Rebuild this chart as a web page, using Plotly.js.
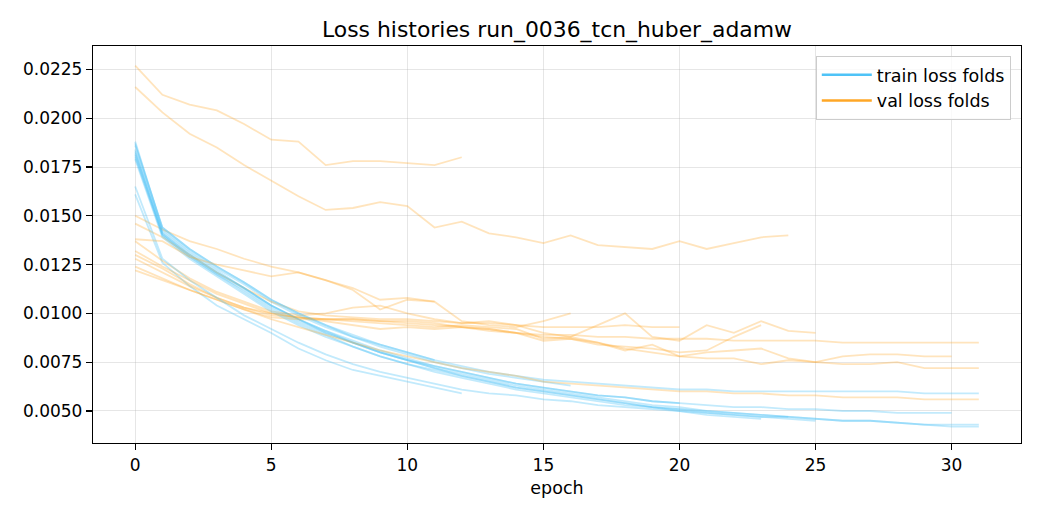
<!DOCTYPE html>
<html>
<head>
<meta charset="utf-8">
<script src="https://cdn.plot.ly/plotly-3.0.1.min.js"></script>
<style>
  html, body { margin: 0; padding: 0; background: #fff; }
  #losses { width: 1040px; height: 520px; }
</style>
</head>
<body>
<div id="losses"></div>
<script>
// per-fold loss histories (index = epoch)
const train_f01 = [0.0161, 0.0126, 0.0114, 0.0104, 0.0097, 0.0090, 0.0082, 0.0076, 0.0071, 0.0068, 0.0065, 0.0062, 0.0059];
const val_f01   = [0.0227, 0.0212, 0.0207, 0.0204, 0.0197, 0.0189, 0.0188, 0.0176, 0.0178, 0.0178, 0.0177, 0.0176, 0.0180];

const train_f02 = [0.0182, 0.0141, 0.0130, 0.0121, 0.0113, 0.0104, 0.0097, 0.0090, 0.0085, 0.0080, 0.0076, 0.0072, 0.0069, 0.0066, 0.0063, 0.0061, 0.0059, 0.0057, 0.0055, 0.0053, 0.0052, 0.0050, 0.0049, 0.0048, 0.0047];
const val_f02   = [0.0216, 0.0203, 0.0192, 0.0185, 0.0176, 0.0168, 0.0160, 0.0153, 0.0154, 0.0157, 0.0155, 0.0144, 0.0147, 0.0141, 0.0139, 0.0136, 0.0140, 0.0135, 0.0134, 0.0133, 0.0137, 0.0133, 0.0136, 0.0139, 0.0140];

const train_f03 = [0.0188, 0.0143, 0.0132, 0.0123, 0.0115, 0.0106, 0.0099, 0.0093, 0.0088, 0.0083, 0.0079, 0.0075, 0.0072, 0.0069, 0.0067, 0.0065, 0.0063];
const val_f03   = [0.0150, 0.0143, 0.0137, 0.0133, 0.0128, 0.0124, 0.0121, 0.0117, 0.0112, 0.0102, 0.0107, 0.0106, 0.0096, 0.0094, 0.0093, 0.0096, 0.0100];

const train_f04 = [0.0180, 0.0140, 0.0129, 0.0120, 0.0112, 0.0103, 0.0096, 0.0090, 0.0085, 0.0080, 0.0076, 0.0073, 0.0070, 0.0067, 0.0064, 0.0062, 0.0060, 0.0058, 0.0057, 0.0055, 0.0054];
const val_f04   = [0.0146, 0.0139, 0.0130, 0.0121, 0.0113, 0.0106, 0.0101, 0.0099, 0.0098, 0.0097, 0.0097, 0.0096, 0.0095, 0.0095, 0.0094, 0.0093, 0.0093, 0.0093, 0.0094, 0.0093, 0.0093];

const train_f05 = [0.0184, 0.0142, 0.0131, 0.0122, 0.0113, 0.0104, 0.0097, 0.0091, 0.0085, 0.0080, 0.0076, 0.0072, 0.0068, 0.0065, 0.0062, 0.0060, 0.0058, 0.0056, 0.0054, 0.0052, 0.0051, 0.0049, 0.0048, 0.0047, 0.0046, 0.0045];
const val_f05   = [0.0130, 0.0123, 0.0115, 0.0108, 0.0103, 0.0099, 0.0098, 0.0097, 0.0096, 0.0095, 0.0094, 0.0093, 0.0094, 0.0093, 0.0092, 0.0087, 0.0088, 0.0094, 0.0100, 0.0088, 0.0086, 0.0094, 0.0090, 0.0096, 0.0091, 0.0090];

const train_f06 = [0.0187, 0.0144, 0.0133, 0.0124, 0.0116, 0.0107, 0.0100, 0.0094, 0.0089, 0.0084, 0.0080, 0.0076, 0.0073, 0.0070, 0.0068, 0.0066, 0.0065, 0.0064, 0.0063, 0.0062, 0.0061, 0.0061, 0.0060, 0.0060, 0.0060, 0.0060, 0.0060, 0.0060, 0.0060, 0.0059, 0.0059, 0.0059];
const val_f06   = [0.0128, 0.0121, 0.0114, 0.0108, 0.0103, 0.0100, 0.0098, 0.0097, 0.0097, 0.0096, 0.0095, 0.0094, 0.0093, 0.0092, 0.0090, 0.0089, 0.0089, 0.0088, 0.0088, 0.0087, 0.0087, 0.0087, 0.0086, 0.0086, 0.0086, 0.0086, 0.0085, 0.0085, 0.0085, 0.0085, 0.0085, 0.0085];

const train_f07 = [0.0183, 0.0141, 0.0130, 0.0121, 0.0113, 0.0104, 0.0097, 0.0091, 0.0086, 0.0081, 0.0077, 0.0073, 0.0070, 0.0067, 0.0064, 0.0062, 0.0060, 0.0058, 0.0057, 0.0055, 0.0054, 0.0053, 0.0052, 0.0052, 0.0051, 0.0051, 0.0050, 0.0050, 0.0049, 0.0049, 0.0049];
const val_f07   = [0.0137, 0.0127, 0.0118, 0.0111, 0.0106, 0.0101, 0.0099, 0.0100, 0.0103, 0.0104, 0.0100, 0.0097, 0.0095, 0.0096, 0.0094, 0.0090, 0.0088, 0.0085, 0.0081, 0.0084, 0.0078, 0.0080, 0.0081, 0.0082, 0.0077, 0.0075, 0.0078, 0.0079, 0.0079, 0.0078, 0.0078];

const train_f08 = [0.0181, 0.0140, 0.0129, 0.0120, 0.0111, 0.0102, 0.0095, 0.0089, 0.0083, 0.0078, 0.0074, 0.0070, 0.0067, 0.0064, 0.0061, 0.0059, 0.0057, 0.0055, 0.0053, 0.0052, 0.0050, 0.0049, 0.0048, 0.0047, 0.0047, 0.0046, 0.0045, 0.0045, 0.0044, 0.0043, 0.0043, 0.0043];
const val_f08   = [0.0122, 0.0117, 0.0112, 0.0107, 0.0102, 0.0098, 0.0097, 0.0097, 0.0097, 0.0096, 0.0096, 0.0095, 0.0093, 0.0092, 0.0090, 0.0088, 0.0087, 0.0085, 0.0082, 0.0080, 0.0078, 0.0077, 0.0077, 0.0074, 0.0076, 0.0075, 0.0074, 0.0074, 0.0075, 0.0072, 0.0072, 0.0072];

const train_f09 = [0.0179, 0.0139, 0.0128, 0.0119, 0.0110, 0.0101, 0.0094, 0.0088, 0.0083, 0.0078, 0.0074, 0.0071, 0.0068, 0.0065, 0.0062, 0.0060, 0.0058, 0.0056, 0.0054, 0.0052, 0.0051, 0.0050, 0.0049, 0.0048, 0.0047, 0.0046, 0.0045, 0.0045, 0.0044, 0.0043, 0.0042, 0.0042];
const val_f09   = [0.0124, 0.0118, 0.0112, 0.0107, 0.0102, 0.0097, 0.0093, 0.0089, 0.0085, 0.0081, 0.0078, 0.0075, 0.0072, 0.0070, 0.0068, 0.0065, 0.0064, 0.0063, 0.0062, 0.0061, 0.0060, 0.0060, 0.0059, 0.0059, 0.0058, 0.0058, 0.0057, 0.0057, 0.0057, 0.0056, 0.0056, 0.0056];

const train_f10 = [0.0165, 0.0128, 0.0117, 0.0108, 0.0099, 0.0092, 0.0085, 0.0079, 0.0074, 0.0070, 0.0067, 0.0064, 0.0061, 0.0059, 0.0058, 0.0056, 0.0055, 0.0053, 0.0052, 0.0051, 0.0050, 0.0048, 0.0047, 0.0046];
const val_f10   = [0.0132, 0.0124, 0.0117, 0.0110, 0.0105, 0.0100, 0.0098, 0.0096, 0.0094, 0.0092, 0.0093, 0.0092, 0.0093, 0.0091, 0.0090, 0.0086, 0.0087, 0.0084, 0.0083, 0.0082, 0.0080, 0.0081, 0.0088, 0.0094];

const train_f11 = [0.0186, 0.0144, 0.0133, 0.0124, 0.0116, 0.0107, 0.0100, 0.0094, 0.0088, 0.0084, 0.0080, 0.0076];
const val_f11   = [0.0138, 0.0137, 0.0129, 0.0125, 0.0122, 0.0119, 0.0121, 0.0117, 0.0113, 0.0107, 0.0108, 0.0106];

const trainFolds = [train_f01, train_f02, train_f03, train_f04, train_f05, train_f06, train_f07, train_f08, train_f09, train_f10, train_f11];
const valFolds = [val_f01, val_f02, val_f03, val_f04, val_f05, val_f06, val_f07, val_f08, val_f09, val_f10, val_f11];

const yTicks = [0.0050, 0.0075, 0.0100, 0.0125, 0.0150, 0.0175, 0.0200, 0.0225];
const xTicks = [0, 5, 10, 15, 20, 25, 30];

const TRAIN_COLOUR = '#4fc3f7';
const VAL_COLOUR = '#ffa726';

function epochsOf(series) {
    return series.map((_, i) => i);
}

var data = [];

for (let k = 0; k < trainFolds.length; k++) {
    data.push({
        type: 'scatter',
        mode: 'lines',
        x: epochsOf(trainFolds[k]),
        y: trainFolds[k],
        line: { color: TRAIN_COLOUR, width: 1.8 },
        opacity: 0.35,
        showlegend: false,
        hoverinfo: 'skip'
    });
    data.push({
        type: 'scatter',
        mode: 'lines',
        x: epochsOf(valFolds[k]),
        y: valFolds[k],
        line: { color: VAL_COLOUR, width: 1.8 },
        opacity: 0.3,
        showlegend: false,
        hoverinfo: 'skip'
    });
}

// legend-only entries, drawn at full strength like matplotlib's legend handles
data.push({ type: 'scatter', mode: 'lines', x: [null], y: [null], name: 'train loss folds', line: { color: TRAIN_COLOUR, width: 2.4 } });
data.push({ type: 'scatter', mode: 'lines', x: [null], y: [null], name: 'val loss folds', line: { color: VAL_COLOUR, width: 2.4 } });

const axisCommon = {
    showline: true,
    mirror: true,
    linecolor: '#000',
    linewidth: 1.2,
    ticks: 'outside',
    ticklen: 6,
    tickwidth: 1.1,
    tickcolor: '#000',
    showgrid: true,
    gridcolor: 'rgba(176,176,176,0.32)',
    gridwidth: 1,
    zeroline: false,
    tickfont: { size: 17, color: '#000' }
};

Plotly.newPlot('losses', data, {
    width: 1040,
    height: 520,
    font: { family: 'DejaVu Sans', size: 17, color: '#000' },
    paper_bgcolor: '#fff',
    plot_bgcolor: '#fff',
    margin: { l: 93, r: 19, t: 46, b: 77 },
    title: {
        text: 'Loss histories run_0036_tcn_huber_adamw',
        font: { size: 21.9, color: '#000' },
        x: 0.5 + (93 - 19) / 2 / 1040,
        xanchor: 'center',
        y: 1 - 29 / 520,
        yanchor: 'middle'
    },
    xaxis: Object.assign({}, axisCommon, {
        range: [-1.55, 32.55],
        tickvals: xTicks,
        title: { text: 'epoch', font: { size: 17.5 }, standoff: 8 }
    }),
    yaxis: Object.assign({}, axisCommon, {
        range: [0.00336, 0.0237],
        tickvals: yTicks,
        tickformat: '.4f'
    }),
    showlegend: true,
    legend: {
        x: 0.989,
        y: 0.975,
        xanchor: 'right',
        yanchor: 'top',
        bgcolor: 'rgba(255,255,255,0.8)',
        bordercolor: '#cccccc',
        borderwidth: 1,
        font: { size: 17.5 },
        itemwidth: 50,
        tracegroupgap: 4
    }
},
{
    displayModeBar: false,
    staticPlot: true
});
</script>
</body>
</html>
